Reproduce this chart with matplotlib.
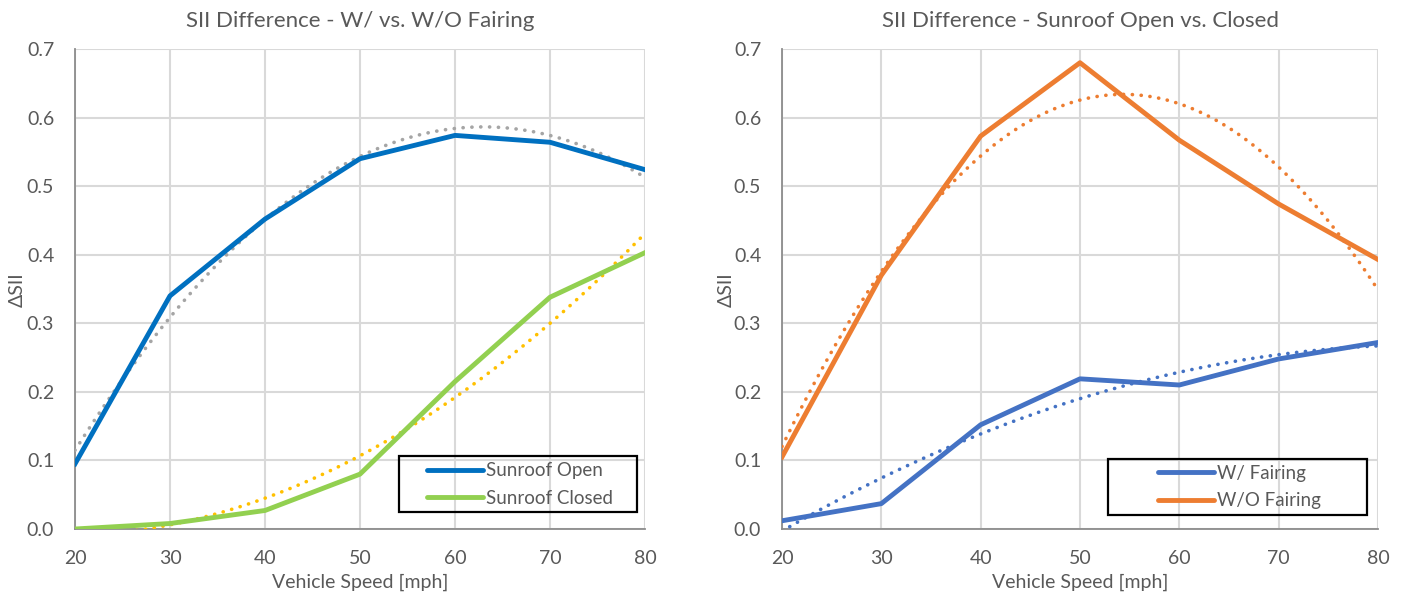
import numpy as np
import matplotlib
matplotlib.use("Agg")
import matplotlib.pyplot as plt
from matplotlib.patches import Rectangle

plt.rcParams['font.family'] = ['Lato', 'DejaVu Sans']

speed = [20, 30, 40, 50, 60, 70, 80]
sunroof_open = [0.095, 0.340, 0.452, 0.540, 0.574, 0.564, 0.524]
sunroof_closed = [0.000, 0.008, 0.027, 0.080, 0.215, 0.338, 0.403]
w_fairing = [0.012, 0.037, 0.152, 0.219, 0.210, 0.248, 0.272]
wo_fairing = [0.105, 0.370, 0.573, 0.680, 0.567, 0.474, 0.393]
yticks = [0.0, 0.1, 0.2, 0.3, 0.4, 0.5, 0.6, 0.7]
xticks = [20, 30, 40, 50, 60, 70, 80]

TXT = '#595959'
GRID = '#D9D9D9'
W, H = 1403, 594

fig = plt.figure(figsize=(W / 100, H / 100), dpi=100)


def px_axes(x0, x1, y0, y1):
    return fig.add_axes([x0 / W, 1 - y1 / H, (x1 - x0) / W, (y1 - y0) / H])


ax1 = px_axes(75, 645, 49, 529)
ax2 = px_axes(782, 1378, 49, 529)


def trend(ax, x, y, color, deg=2):
    c = np.polyfit(x, y, deg)
    xs = np.linspace(min(x), max(x), 300)
    ax.plot(xs, np.polyval(c, xs), color=color, lw=2.6, ls=(0, (0.05, 2.4)),
            dash_capstyle='round', zorder=3)


def style(ax, title, ylab_x, box, anchor, rows_y):
    ax.set_xlim(20, 80)
    ax.set_ylim(0, 0.7)
    ax.set_xticks(xticks)
    ax.set_yticks(yticks)
    ax.set_yticklabels([f"{v:.1f}" for v in yticks])
    ax.grid(True, color=GRID, lw=1.5)
    ax.set_axisbelow(True)
    for s in ['top', 'right']:
        ax.spines[s].set_visible(False)
    for s in ['left', 'bottom']:
        ax.spines[s].set_color('#8C8C8C')
        ax.spines[s].set_linewidth(1.3)
    ax.tick_params(length=0, labelsize=14, colors=TXT)
    ax.tick_params(axis='x', pad=15)
    ax.tick_params(axis='y', pad=15)
    ax.set_title(title, fontsize=16, color=TXT, pad=16)
    ax.set_xlabel('Vehicle Speed [mph]', fontsize=14, color=TXT, labelpad=5)
    ax.set_ylabel('ΔSII', fontsize=14, color=TXT)
    ax.yaxis.set_label_coords(ylab_x / W, 1 - 290 / H, transform=fig.transFigure)
    x0, y0, x1, y1 = box
    fig.add_artist(Rectangle((x0 / W, 1 - y1 / H), (x1 - x0) / W, (y1 - y0) / H,
                             transform=fig.transFigure, fill=False,
                             ec='black', lw=1.6, zorder=10))
    leg = ax.legend(loc='center left', bbox_to_anchor=(anchor / W, 1 - rows_y / H),
                    bbox_transform=fig.transFigure, frameon=False,
                    fontsize=13.5, handlelength=3.0, handletextpad=0.15,
                    borderpad=0, labelspacing=0.55, borderaxespad=0)
    for t in leg.get_texts():
        t.set_color(TXT)
    for l in leg.get_lines():
        l.set_solid_capstyle('round')


# Left chart
trend(ax1, speed, sunroof_open, '#A5A5A5', 2)
trend(ax1, speed, sunroof_closed, '#FFC000', 2)
ax1.plot(speed, sunroof_open, color='#0070C0', lw=3.5, label='Sunroof Open',
         solid_joinstyle='round', zorder=4)
ax1.plot(speed, sunroof_closed, color='#92D050', lw=3.5, label='Sunroof Closed',
         solid_joinstyle='round', zorder=4)
style(ax1, 'SII Difference - W/ vs. W/O Fairing', 26,
      (399, 456, 637, 512), 427, 484.5)

# Right chart
trend(ax2, speed, w_fairing, '#4472C4', 2)
trend(ax2, speed, wo_fairing, '#ED7D31', 2)
ax2.plot(speed, w_fairing, color='#4472C4', lw=3.5, label='W/ Fairing',
         solid_joinstyle='round', zorder=4)
ax2.plot(speed, wo_fairing, color='#ED7D31', lw=3.5, label='W/O Fairing',
         solid_joinstyle='round', zorder=4)
style(ax2, 'SII Difference - Sunroof Open vs. Closed', 735,
      (1108, 459, 1367, 515), 1158, 487)

fig.savefig('out.png', dpi=100)
